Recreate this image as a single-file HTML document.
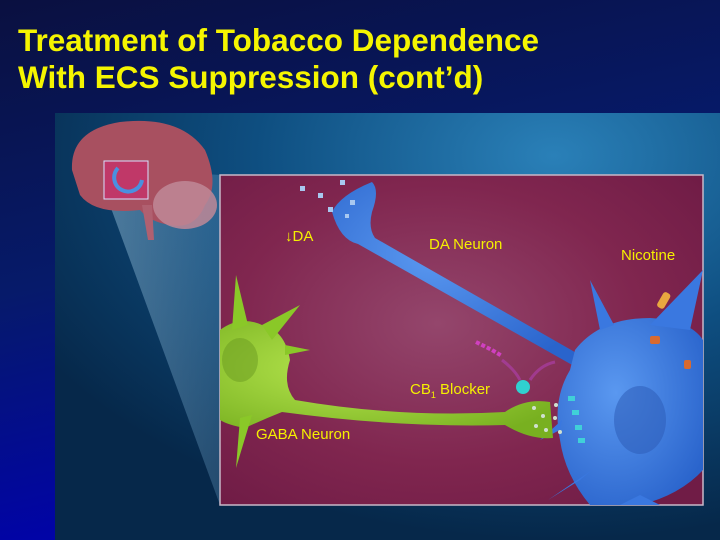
<!DOCTYPE html>
<html><head><meta charset="utf-8"><style>
html,body{margin:0;padding:0;width:720px;height:540px;overflow:hidden;background:#0a0f4a}
.t{position:absolute;left:18px;font:bold 31.5px "Liberation Sans",sans-serif;color:#f5f500;white-space:nowrap}
.l{position:absolute;font:15px 'Liberation Sans',sans-serif;color:#f5f000}
</style></head><body>
<svg width="720" height="540" style="position:absolute;left:0;top:0">
<defs>
<linearGradient id="bg" x1="0" y1="0" x2="0.3" y2="1">
<stop offset="0" stop-color="#0a1040"/><stop offset="0.5" stop-color="#061a6a"/><stop offset="1" stop-color="#0000b0"/></linearGradient>
<radialGradient id="tp" cx="0.75" cy="0.1" r="0.9">
<stop offset="0" stop-color="#2a80b8"/><stop offset="0.5" stop-color="#0e4e80"/><stop offset="1" stop-color="#06284a"/></radialGradient>
<radialGradient id="mg" cx="0.45" cy="0.45" r="0.7">
<stop offset="0" stop-color="#94466c"/><stop offset="0.6" stop-color="#80264f"/><stop offset="1" stop-color="#701c46"/></radialGradient>
<linearGradient id="beam" x1="0" y1="0" x2="1" y2="0">
<stop offset="0" stop-color="#a0c8e0" stop-opacity="0.45"/><stop offset="1" stop-color="#6aa0c8" stop-opacity="0.3"/></linearGradient>
<radialGradient id="blue" cx="0.4" cy="0.4" r="0.7"><stop offset="0" stop-color="#5a98f0"/><stop offset="1" stop-color="#2a64cc"/></radialGradient>
<radialGradient id="grn" cx="0.4" cy="0.4" r="0.7"><stop offset="0" stop-color="#b8e850"/><stop offset="1" stop-color="#78b020"/></radialGradient>
</defs>
<rect width="720" height="540" fill="url(#bg)"/>
<rect x="55" y="113" width="665" height="427" fill="url(#tp)"/>
<polygon points="108,200 148,170 220,175 220,505" fill="url(#beam)"/>
<!-- brain -->
<path d="M72,170 Q70,130 120,122 Q180,115 205,150 Q220,185 205,205 Q195,230 170,225 Q150,222 140,210 Q95,215 80,195Z" fill="#a85060"/>
<ellipse cx="185" cy="205" rx="32" ry="24" fill="#c08898" opacity="0.85"/>
<path d="M142,205 L148,240 L154,240 L152,205Z" fill="#b06070"/>
<rect x="104" y="161" width="44" height="38" fill="#c03868" stroke="#d8e0ff" stroke-width="1"/>
<path d="M118,168 A14,14 0 1,0 142,180" fill="none" stroke="#4a90e0" stroke-width="4"/>
<!-- magenta panel -->
<rect x="220" y="175" width="483" height="330" fill="url(#mg)" stroke="#c8b8c8" stroke-width="1.5"/>
<!-- DA neuron terminal + axon -->
<path d="M332,212 Q340,195 372,182 Q380,190 372,212 Q368,228 375,238 L580,355 L574,366 L358,244 Q340,240 332,212Z" fill="url(#blue)"/>
<!-- DA body -->
<path d="M575,350 Q600,318 650,318 Q690,320 703,340 L703,470 Q680,495 640,505 L590,505 Q565,475 560,440 Q552,400 570,370Z" fill="url(#blue)"/>
<path d="M650,325 L703,270 L690,330Z M600,330 L590,280 L614,325Z M640,495 L660,505 L620,505Z M580,480 L548,500 L592,470Z M560,430 L540,440 L562,420Z" fill="#3a78e0"/>
<ellipse cx="640" cy="420" rx="26" ry="34" fill="#2e5cb8" opacity="0.55"/>
<g fill="#a8c8f0"><rect x="300" y="186" width="5" height="5"/><rect x="318" y="193" width="5" height="5"/><rect x="340" y="180" width="5" height="5"/><rect x="328" y="207" width="5" height="5"/><rect x="350" y="200" width="5" height="5"/><rect x="345" y="214" width="4" height="4"/></g>
<!-- nicotine -->
<rect x="660" y="292" width="8" height="17" rx="3" fill="#e8a840" transform="rotate(30 664 300)"/>
<rect x="650" y="336" width="10" height="8" rx="2" fill="#d86a30"/>
<rect x="684" y="360" width="7" height="9" rx="2" fill="#d86a30"/>
<!-- GABA neuron -->
<path d="M220,330 Q240,315 262,325 Q285,330 290,360 Q282,385 295,400 Q400,418 505,412 Q525,398 550,402 L553,438 Q530,440 505,425 Q400,428 282,412 Q262,420 245,428 Q228,425 220,420Z" fill="url(#grn)"/>
<path d="M232,330 L236,275 L248,325Z M262,325 L300,305 L272,340Z M240,418 L236,468 L252,415Z M285,345 L310,350 L285,355Z" fill="#8ac828"/>
<ellipse cx="240" cy="360" rx="18" ry="22" fill="#6a9a20" opacity="0.5"/>
<g fill="#d0e0d0"><circle cx="534" cy="408" r="2"/><circle cx="543" cy="416" r="2"/><circle cx="536" cy="426" r="2"/><circle cx="546" cy="430" r="2"/><circle cx="555" cy="418" r="2"/><circle cx="560" cy="432" r="2"/><circle cx="556" cy="405" r="2"/></g>
<g fill="#40d0d8"><rect x="568" y="396" width="7" height="5"/><rect x="572" y="410" width="7" height="5"/><rect x="575" y="425" width="7" height="5"/><rect x="578" y="438" width="7" height="5"/></g>
<circle cx="523" cy="387" r="7" fill="#30d0d0"/>
<path d="M476,342 L492,350 L502,356" stroke="#d040c0" stroke-width="4" fill="none" stroke-dasharray="4,2"/>
<path d="M502,360 Q515,370 520,380 M530,380 Q540,365 555,362" stroke="#b040b0" stroke-width="3" fill="none" opacity="0.6"/>
</svg>
<div class="t" style="top:22px">Treatment of Tobacco Dependence</div>
<div class="t" style="top:59px">With ECS Suppression (cont’d)</div>
<div class="l" style="left:285px;top:228px">↓DA</div>
<div class="l" style="left:429px;top:236px">DA Neuron</div>
<div class="l" style="left:621px;top:247px">Nicotine</div>
<div class="l" style="left:410px;top:381px">CB<sub style="font-size:9px">1</sub> Blocker</div>
<div class="l" style="left:256px;top:426px">GABA Neuron</div>
</body></html>
